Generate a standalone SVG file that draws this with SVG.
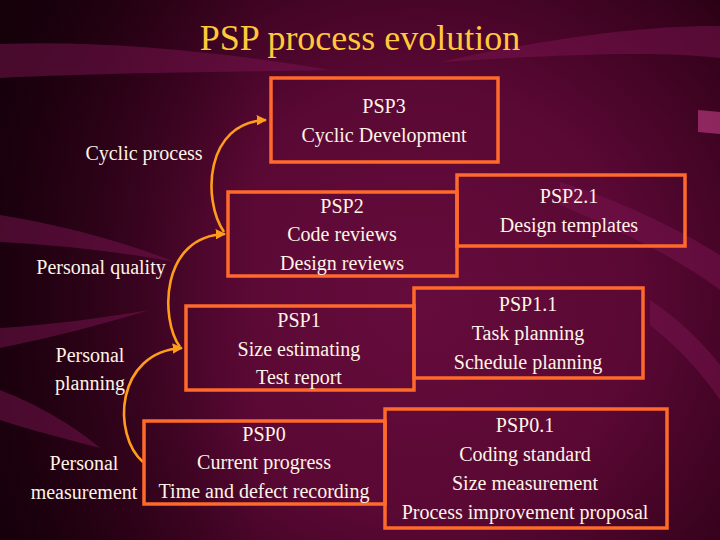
<svg xmlns="http://www.w3.org/2000/svg" width="720" height="540" viewBox="0 0 720 540" font-family="'Liberation Serif', 'Times New Roman', serif">
<defs>
<radialGradient id="bg" cx="420" cy="300" r="480" gradientUnits="userSpaceOnUse">
<stop offset="0" stop-color="#650c3c"/>
<stop offset="0.45" stop-color="#5a0834"/>
<stop offset="0.8" stop-color="#36021c"/>
<stop offset="1" stop-color="#1c000c"/>
</radialGradient>
<linearGradient id="leftShade" x1="0" y1="0" x2="1" y2="0">
<stop offset="0" stop-color="#14000a" stop-opacity="0.7"/>
<stop offset="1" stop-color="#14000a" stop-opacity="0"/>
</linearGradient>
<marker id="ah" viewBox="0 0 10 10" refX="9" refY="5" markerWidth="4" markerHeight="4" orient="auto" markerUnits="strokeWidth">
<path d="M0,0 L10,5 L0,10 z" fill="#ff9c1a"/>
</marker>
<style>
.bx{fill:none;stroke:#ff6a2a;stroke-width:3.5}
.t{font-family:'Liberation Serif','Times New Roman',serif;font-size:20px;fill:#fff3e6;text-anchor:middle}
.ttl{font-family:'Liberation Serif','Times New Roman',serif;font-size:36px;fill:#ffc93a;text-anchor:middle}
.ar{fill:none;stroke:#ff9c1a;stroke-width:2.6}
.sw{fill:#7a1450;opacity:0.5}
</style>
</defs>
<rect x="0" y="0" width="720" height="540" fill="url(#bg)"/>
<rect x="0" y="0" width="260" height="540" fill="url(#leftShade)"/>
<g id="background-swooshes">
<path class="sw" d="M0,44 C120,40 240,55 330,70 C250,72 130,72 0,78 z"/>
<path class="sw" d="M440,62 C540,40 640,25 720,26 L720,58 C650,50 560,55 440,62 z"/>
<path class="sw" d="M0,215 C60,225 120,240 175,262 C120,252 60,245 0,242 z"/>
<path class="sw" d="M0,328 C50,325 100,318 150,310 C100,325 50,338 0,348 z"/>
<path class="sw" d="M0,390 C40,405 80,430 100,448 C70,440 30,430 0,420 z"/>
<path class="sw" d="M560,182 C620,200 680,230 720,255 L720,290 C680,260 630,235 560,205 z"/>
<path class="sw" d="M650,300 C680,320 705,345 720,365 L720,400 C700,370 675,345 650,325 z"/>
<path d="M698,110 L720,112 L720,134 L698,132 z" fill="#a3306e" opacity="0.8"/>
</g>
<text class="ttl" x="360" y="50">PSP process evolution</text>
<g id="connectors">
<path class="ar" d="M143,462 C112,435 115,352 182,348" marker-end="url(#ah)"/>
<path class="ar" d="M180,347 C160,320 160,236 225,234" marker-end="url(#ah)"/>
<path class="ar" d="M224,232 C202,200 205,122 266,120" marker-end="url(#ah)"/>
</g>
<g id="lbl-cyclic"><text class="t" x="144" y="160">Cyclic process</text></g>
<g id="lbl-quality"><text class="t" x="101" y="274">Personal quality</text></g>
<g id="lbl-planning"><text class="t" x="90" y="362">Personal</text><text class="t" x="90" y="390">planning</text></g>
<g id="lbl-measurement"><text class="t" x="84" y="470">Personal</text><text class="t" x="84" y="499">measurement</text></g>
<g id="psp3">
<rect class="bx" x="271" y="78" width="227" height="84"/>
<text class="t" x="384" y="113">PSP3</text>
<text class="t" x="384" y="142">Cyclic Development</text>
</g>
<g id="psp2">
<rect class="bx" x="228" y="192" width="229" height="84"/>
<text class="t" x="342" y="213">PSP2</text>
<text class="t" x="342" y="241">Code reviews</text>
<text class="t" x="342" y="270">Design reviews</text>
</g>
<g id="psp2-1">
<rect class="bx" x="457" y="175" width="228" height="71"/>
<text class="t" x="569" y="203">PSP2.1</text>
<text class="t" x="569" y="232">Design templates</text>
</g>
<g id="psp1">
<rect class="bx" x="186" y="306" width="228" height="84"/>
<text class="t" x="299" y="327">PSP1</text>
<text class="t" x="299" y="356">Size estimating</text>
<text class="t" x="299" y="384">Test report</text>
</g>
<g id="psp1-1">
<rect class="bx" x="414" y="288" width="229" height="90"/>
<text class="t" x="528" y="311">PSP1.1</text>
<text class="t" x="528" y="340">Task planning</text>
<text class="t" x="528" y="369">Schedule planning</text>
</g>
<g id="psp0">
<rect class="bx" x="144" y="421" width="241" height="83"/>
<text class="t" x="264" y="441">PSP0</text>
<text class="t" x="264" y="469">Current progress</text>
<text class="t" x="264" y="498">Time and defect recording</text>
</g>
<g id="psp0-1">
<rect class="bx" x="385" y="409" width="282" height="119"/>
<text class="t" x="525" y="432">PSP0.1</text>
<text class="t" x="525" y="461">Coding standard</text>
<text class="t" x="525" y="490">Size measurement</text>
<text class="t" x="525" y="519">Process improvement proposal</text>
</g>
</svg>
